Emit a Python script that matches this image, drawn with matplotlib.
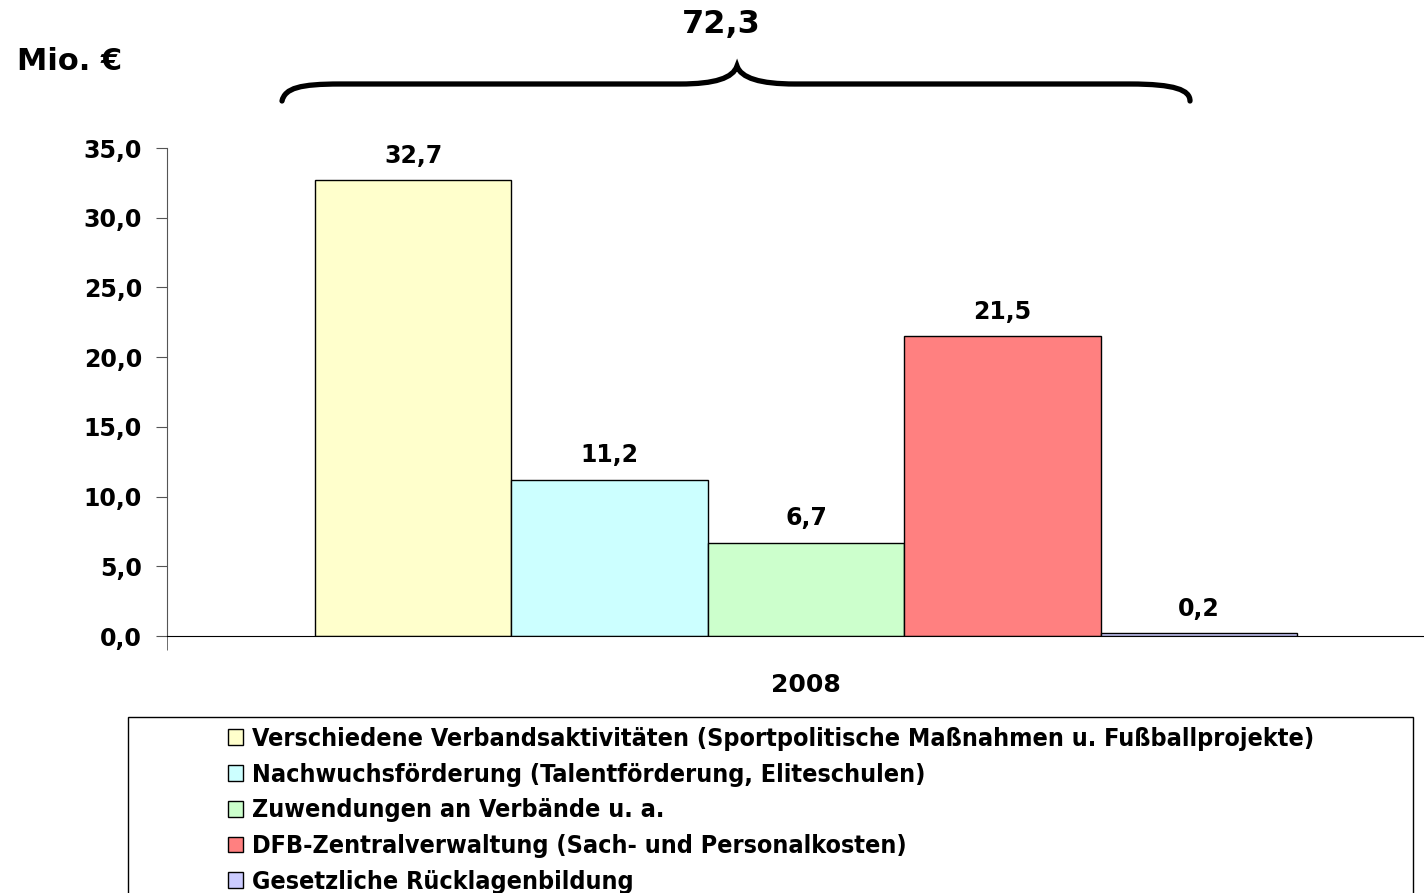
import matplotlib
matplotlib.use("Agg")
import matplotlib.pyplot as plt
from matplotlib.patches import Rectangle, PathPatch
from matplotlib.path import Path
from matplotlib.ticker import FuncFormatter

# data
categories = [
    "Verschiedene Verbandsaktivitäten (Sportpolitische Maßnahmen u. Fußballprojekte)",
    "Nachwuchsförderung (Talentförderung, Eliteschulen)",
    "Zuwendungen an Verbände u. a.",
    "DFB-Zentralverwaltung (Sach- und Personalkosten)",
    "Gesetzliche Rücklagenbildung",
]
values = [32.7, 11.2, 6.7, 21.5, 0.2]
total_label = "72,3"
year = "2008"
colors = ["#FFFFCC", "#CCFFFF", "#CCFFCC", "#FF8080", "#CCCCFF"]

W, H = 1424, 893


def fx(px):
    return px / W


def fy(py):
    return 1 - py / H


def comma(v, pos=None):
    return f"{v:.1f}".replace(".", ",")


fig = plt.figure(figsize=(W / 100, H / 100), dpi=100)
ax = fig.add_axes([fx(167), fy(636), (W - 167) / W, (636 - 148) / H])

positions = [i - (len(values) - 1) / 2 for i in range(len(values))]
handles = []
for p, v, c in zip(positions, values, colors):
    b = ax.bar(p, v, width=1.0, color=c, edgecolor="black", linewidth=1)
    handles.append(b[0])
    ax.text(p, v + 0.9, comma(v), ha="center", va="bottom",
            fontsize=17, fontweight="bold")

ax.set_ylim(0, 35)
ax.set_yticks(range(0, 36, 5))
ax.yaxis.set_major_formatter(FuncFormatter(comma))
ax.set_xlim(-3.252, 3.145)
ax.set_xticks([0])
ax.set_xticklabels([year])
ax.tick_params(axis="x", length=0, pad=27, labelsize=18)
ax.set_xticks([-3.252], minor=True)
ax.tick_params(axis="x", which="minor", length=10, direction="out", color="#555555")
ax.tick_params(axis="y", length=8, direction="out", pad=10, labelsize=17, color="#555555")
for lab in ax.get_yticklabels() + ax.get_xticklabels():
    lab.set_fontweight("bold")
ax.spines["top"].set_visible(False)
ax.spines["right"].set_visible(False)
ax.spines["left"].set_color("#555555")
ax.spines["bottom"].set_color("black")

fig.text(fx(17), fy(61), "Mio. €", fontsize=22, fontweight="bold", ha="left", va="center")
fig.text(fx(721), fy(25), total_label, fontsize=23, fontweight="bold", ha="center", va="center")

# curly brace over the bars
pts = [(282, 101), (285, 88), (300, 84), (340, 84), (680, 84),
       (715, 84), (733, 78), (737, 66),
       (741, 78), (760, 84), (795, 84), (1130, 84),
       (1175, 84), (1190, 90), (1190, 101)]
codes = [Path.MOVETO, Path.CURVE4, Path.CURVE4, Path.CURVE4, Path.LINETO,
         Path.CURVE4, Path.CURVE4, Path.CURVE4,
         Path.CURVE4, Path.CURVE4, Path.CURVE4, Path.LINETO,
         Path.CURVE4, Path.CURVE4, Path.CURVE4]
brace = Path([(fx(x), fy(y)) for x, y in pts], codes)
fig.patches.append(PathPatch(brace, transform=fig.transFigure, fill=False,
                             linewidth=3.8, edgecolor="black", capstyle="round"))

# legend box
fig.patches.append(Rectangle((fx(128), -0.05), (1413 - 128) / W, fy(717) + 0.05,
                             transform=fig.transFigure, fill=False,
                             edgecolor="black", linewidth=1))
leg = fig.legend(handles, categories, loc="upper left",
                 bbox_to_anchor=(fx(228), fy(727)), frameon=False,
                 borderpad=0, borderaxespad=0, handlelength=0.6, handleheight=0.6,
                 handletextpad=0.36, labelspacing=0.47,
                 prop={"family": "DejaVu Sans", "stretch": "condensed",
                       "weight": "bold", "size": 18})

fig.savefig("out.png", dpi=100)
